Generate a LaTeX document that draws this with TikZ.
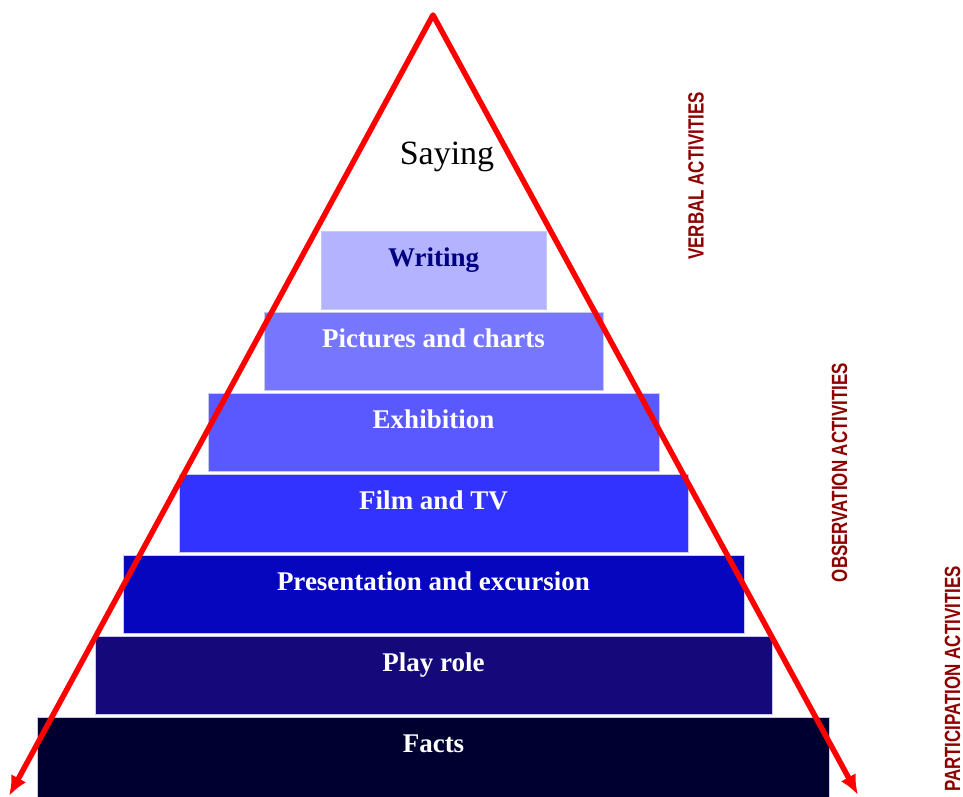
\documentclass[tikz,border=0pt]{standalone}
\usepackage{fontspec}
\setmainfont{Liberation Serif}
\newfontfamily\labelfont{Liberation Sans}
\usepackage{tikz}
\usetikzlibrary{arrows.meta,positioning}
\definecolor{edgeblue}{HTML}{C8C8F0}
\definecolor{tierone}{HTML}{B3B3FF}
\definecolor{tiertwo}{HTML}{7676FF}
\definecolor{tierthree}{HTML}{5959FF}
\definecolor{tierfour}{HTML}{3333FF}
\definecolor{tierfive}{HTML}{0606BE}
\definecolor{tiersix}{HTML}{15087A}
\definecolor{tierseven}{HTML}{000030}
\definecolor{navytext}{HTML}{000080}
\definecolor{sidered}{HTML}{8E0000}

\begin{document}
\begin{tikzpicture}[x=1pt, y=-1pt, node distance=2pt,
tier/.style={draw=edgeblue,line width=1pt,inner sep=0pt,text height=35pt,text depth=43pt,align=center,text=white,font=\bfseries\fontsize{27}{30}\selectfont},
side/.style={rotate=90,text=sidered,inner sep=0pt,font=\labelfont\bfseries\fontsize{22}{26}\selectfont},
redarr/.style={{Latex[length=20pt,width=17pt]}-{Latex[length=20pt,width=17pt]},draw=red,line width=5.5pt,line join=round}]
\useasboundingbox (0,0) rectangle (963,797);
% pyramid steps
\node[tier,fill=tierone,text=navytext,minimum width=225pt,anchor=north] (writing) at (433.5,231) {Writing};
\node[tier,fill=tiertwo,minimum width=339pt,below=of writing] (pictures) {Pictures and charts};
\node[tier,fill=tierthree,minimum width=451pt,below=of pictures] (exhibition) {Exhibition};
\node[tier,fill=tierfour,minimum width=509pt,below=of exhibition] (film) {Film and TV};
\node[tier,fill=tierfive,minimum width=621pt,below=of film] (presentation) {Presentation and excursion};
\node[tier,fill=tiersix,minimum width=677pt,below=of presentation] (playrole) {Play role};
\node[tier,fill=tierseven,minimum width=792pt,text depth=45pt,below=of playrole] (facts) {Facts};
\node[anchor=base,font=\fontsize{34}{38}\selectfont] (saying) at (447,164) {Saying};
% red cone
\coordinate (apex) at (433,15);
\coordinate (leftend) at (9,796);
\coordinate (rightend) at (858,795);
\draw[redarr] (leftend) -- (apex) -- (rightend);
% side labels
\node[side] (verbal) at (696,176) {\scalebox{0.77}[1]{VERBAL ACTIVITIES}};
\node[side] (observation) at (839.5,472.5) {\scalebox{0.77}[1]{OBSERVATION ACTIVITIES}};
\node[side] (participation) at (952.5,679) {\scalebox{0.77}[1]{PARTICIPATION ACTIVITIES}};
\end{tikzpicture}
\end{document}
